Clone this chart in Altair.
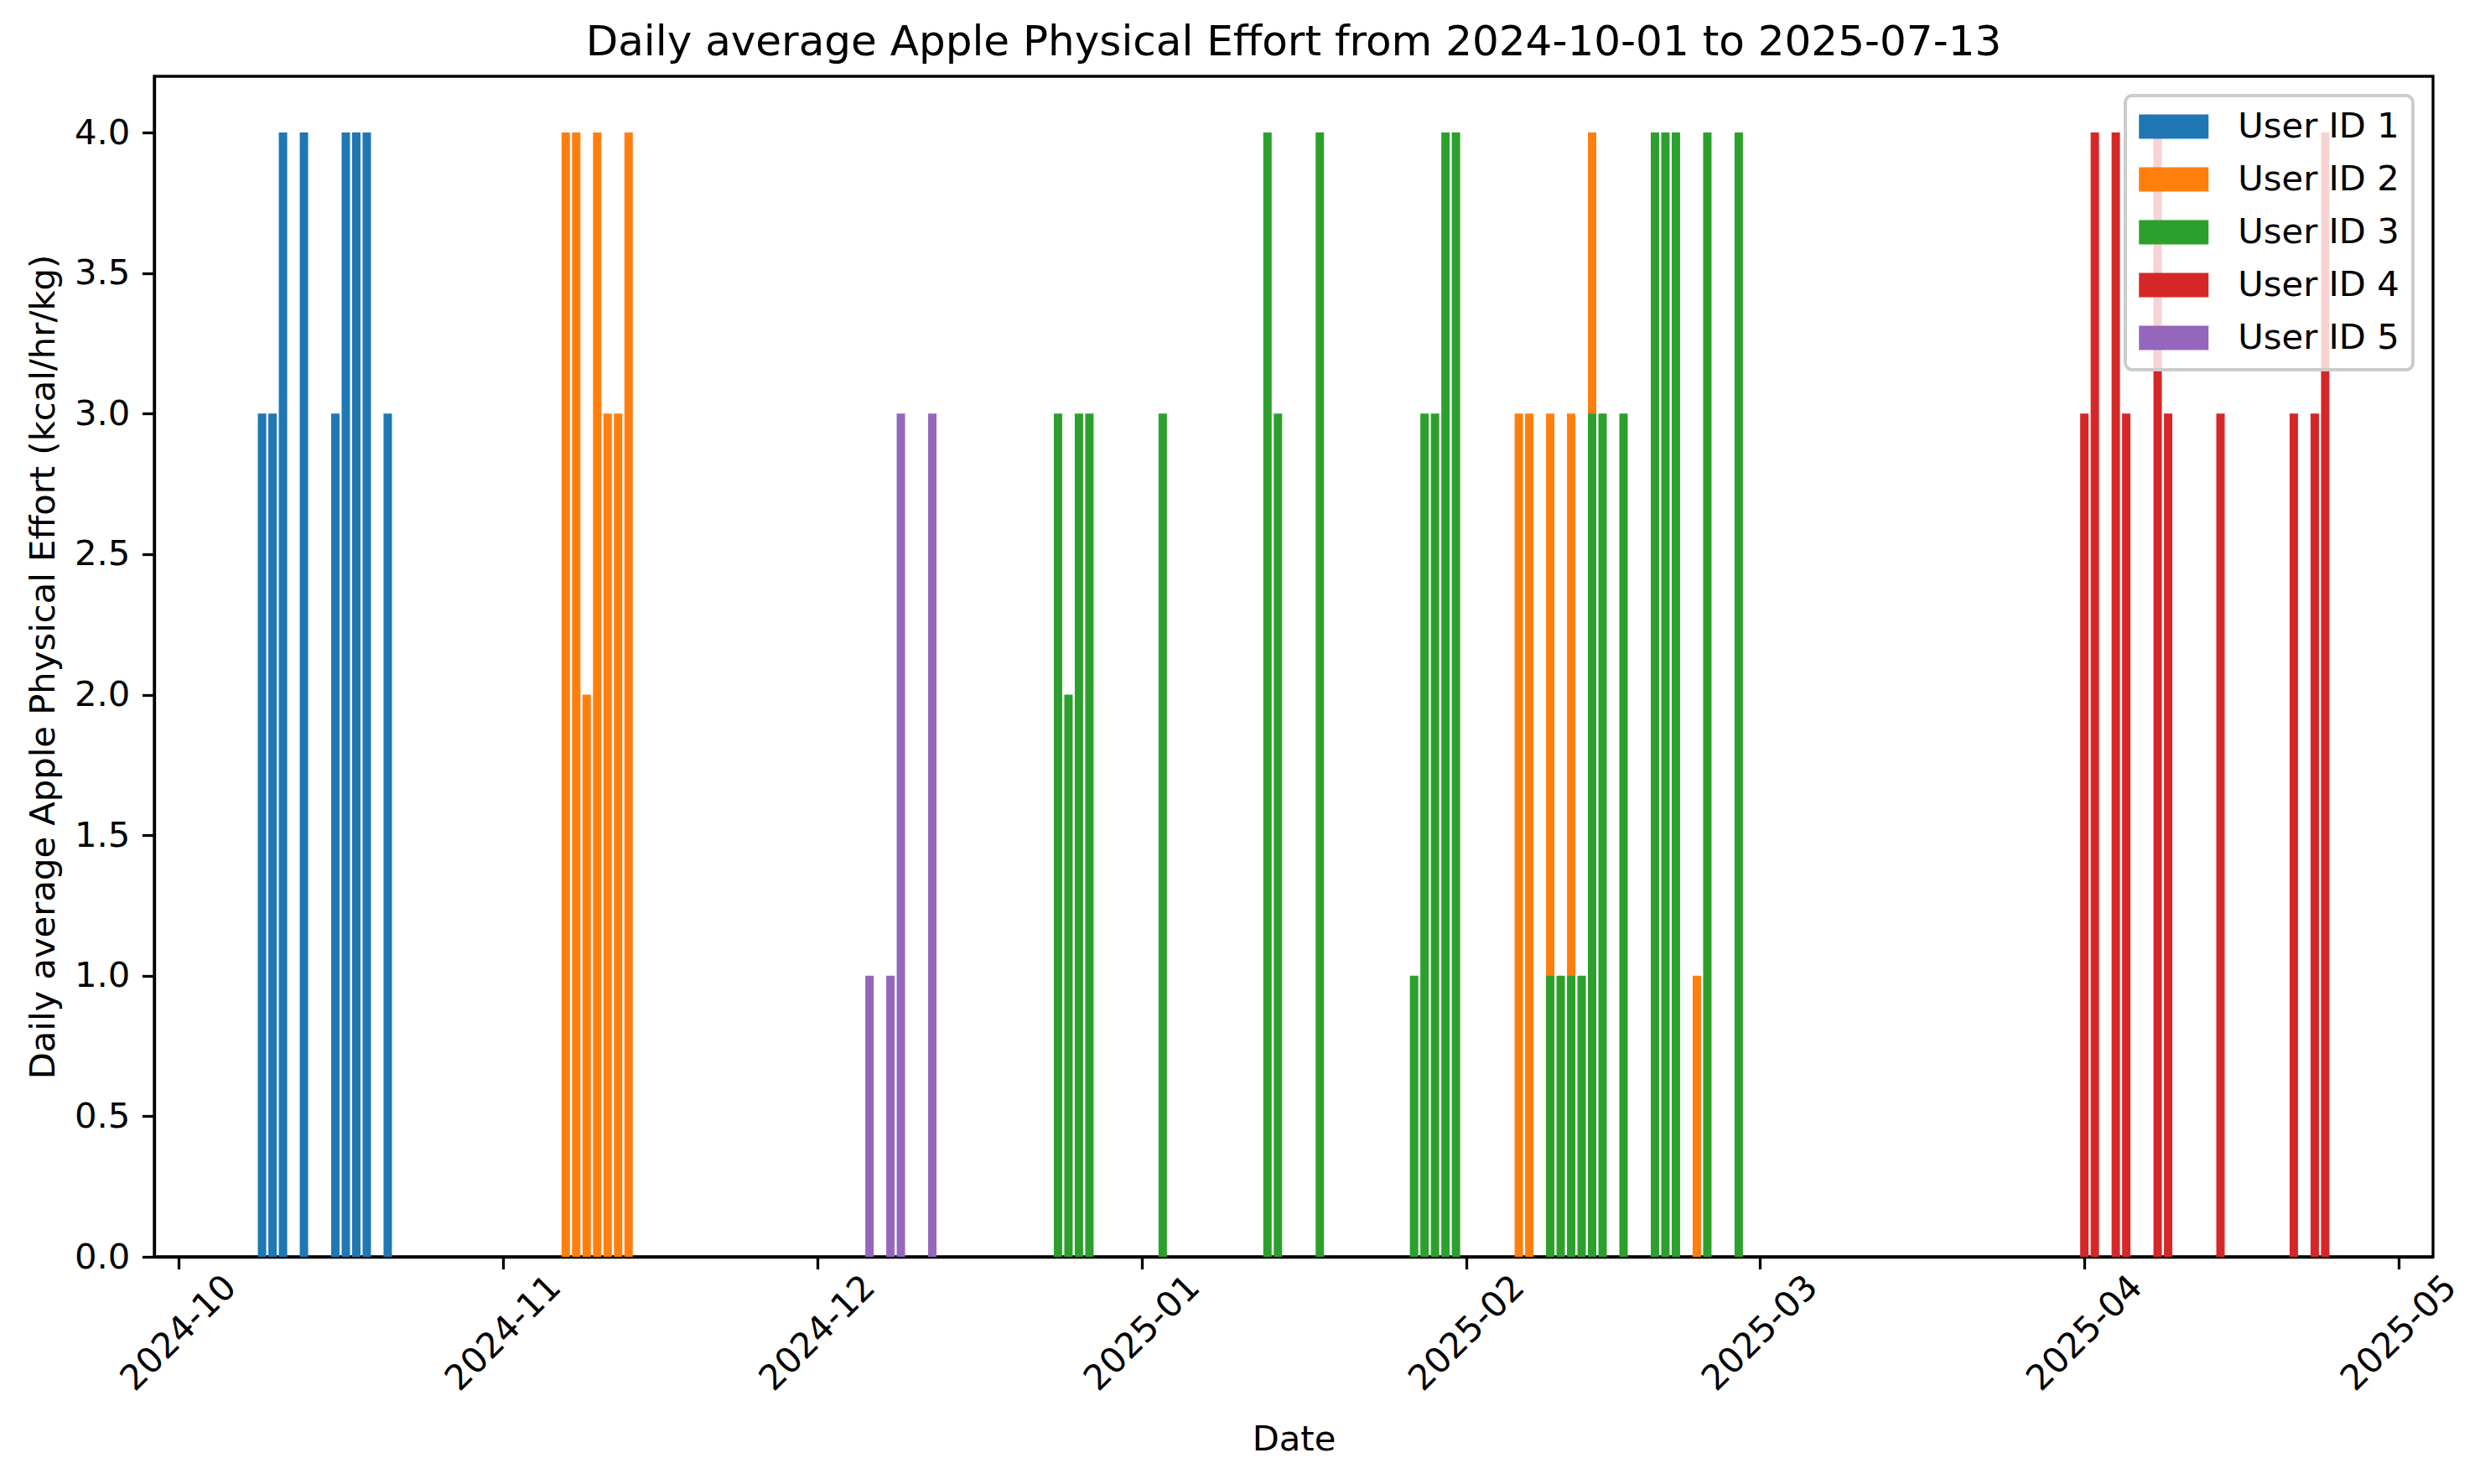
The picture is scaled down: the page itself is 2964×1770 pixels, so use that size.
import altair as alt
import pandas as pd

# ---------------- data ----------------
user_ids = [1, 2, 3, 4, 5]
user_labels = ["User ID 1", "User ID 2", "User ID 3", "User ID 4", "User ID 5"]
user_colors = ["#1f77b4", "#ff7f0e", "#2ca02c", "#d62728", "#9467bd"]

u1_dates = ["2024-10-09", "2024-10-10", "2024-10-11", "2024-10-13", "2024-10-16",
            "2024-10-17", "2024-10-18", "2024-10-19", "2024-10-21"]
u1_values = [3, 3, 4, 4, 3, 4, 4, 4, 3]

u2_dates = ["2024-11-07", "2024-11-08", "2024-11-09", "2024-11-10", "2024-11-11",
            "2024-11-12", "2024-11-13", "2025-02-06", "2025-02-07", "2025-02-09",
            "2025-02-11", "2025-02-13", "2025-02-23"]
u2_values = [4, 4, 2, 4, 3, 3, 4, 3, 3, 3, 3, 4, 1]

u3_dates = ["2024-12-24", "2024-12-25", "2024-12-26", "2024-12-27", "2025-01-03",
            "2025-01-13", "2025-01-14", "2025-01-18", "2025-01-27", "2025-01-28",
            "2025-01-29", "2025-01-30", "2025-01-31", "2025-02-09", "2025-02-10",
            "2025-02-11", "2025-02-12", "2025-02-13", "2025-02-14", "2025-02-16",
            "2025-02-19", "2025-02-20", "2025-02-21", "2025-02-24", "2025-02-27"]
u3_values = [3, 2, 3, 3, 3, 4, 3, 4, 1, 3, 3, 4, 4, 1, 1, 1, 1, 3, 3, 3, 4, 4, 4, 4, 4]

u4_dates = ["2025-04-01", "2025-04-02", "2025-04-04", "2025-04-05", "2025-04-08",
            "2025-04-09", "2025-04-14", "2025-04-21", "2025-04-23", "2025-04-24"]
u4_values = [3, 4, 4, 3, 4, 3, 3, 3, 3, 4]

u5_dates = ["2024-12-06", "2024-12-08", "2024-12-09", "2024-12-12"]
u5_values = [1, 1, 3, 3]

y_tick_values = [0.0, 0.5, 1.0, 1.5, 2.0, 2.5, 3.0, 3.5, 4.0]

title_text = "Daily average Apple Physical Effort from 2024-10-01 to 2025-07-13"
x_title = "Date"
y_title = "Daily average Apple Physical Effort (kcal/hr/kg)"

all_dates = [u1_dates, u2_dates, u3_dates, u4_dates, u5_dates]
all_values = [u1_values, u2_values, u3_values, u4_values, u5_values]

rows = []
for uid, label, dates, values in zip(user_ids, user_labels, all_dates, all_values):
    for d, v in zip(dates, values):
        rows.append({"uid": uid, "user": label, "date": d, "value": v})
df = pd.DataFrame(rows)

# ---------------- style ----------------
FONT = "DejaVu Sans"
FS = 41.7          # 10 pt at 300 dpi
TITLE_FS = 50      # 12 pt at 300 dpi
LW = 3.3           # 0.8 pt
TICK = 14.6        # 3.5 pt
HALF_BAR_MS = 0.4 * 86400000  # bar width 0.8 day

W, H = 2718, 1408

month_ticks = [
    alt.DateTime(year=2024, month=10, date=1, utc=True),
    alt.DateTime(year=2024, month=11, date=1, utc=True),
    alt.DateTime(year=2024, month=12, date=1, utc=True),
    alt.DateTime(year=2025, month=1, date=1, utc=True),
    alt.DateTime(year=2025, month=2, date=1, utc=True),
    alt.DateTime(year=2025, month=3, date=1, utc=True),
    alt.DateTime(year=2025, month=4, date=1, utc=True),
    alt.DateTime(year=2025, month=5, date=1, utc=True),
]
x_domain = [
    alt.DateTime(year=2024, month=9, date=28, hours=17, utc=True),
    alt.DateTime(year=2025, month=5, date=4, hours=7, utc=True),
]

chart = (
    alt.Chart(df)
    .transform_calculate(
        x0=f"time(datum.date) - {HALF_BAR_MS}",
        x1=f"time(datum.date) + {HALF_BAR_MS}",
    )
    .mark_bar(strokeWidth=0)
    .encode(
        x=alt.X(
            "x0:T",
            scale=alt.Scale(type="utc", domain=x_domain),
            axis=alt.Axis(
                values=month_ticks,
                format="%Y-%m",
                labelAngle=-45,
                labelAlign="center",
                labelBaseline="middle",
                labelPadding=76,
                labelFont=FONT,
                labelFontSize=FS,
                labelColor="black",
                labelLimit=500,
                labelFlush=False,
                labelOverlap=False,
                tickSize=TICK,
                tickWidth=LW,
                tickColor="black",
                domainColor="black",
                domainWidth=LW,
                grid=False,
                title=x_title,
                titleFont=FONT,
                titleFontSize=FS,
                titleFontWeight="normal",
                titleColor="black",
                titleX=W / 2,
                titleY=217,
                titleAlign="center",
                titleBaseline="middle",
            ),
        ),
        x2="x1:T",
        y=alt.Y(
            "value:Q",
            stack=None,
            scale=alt.Scale(domain=[0, 4.2], nice=False, zero=True),
            axis=alt.Axis(
                values=y_tick_values,
                format=".1f",
                labelPadding=TICK,
                labelFont=FONT,
                labelFontSize=FS,
                labelColor="black",
                tickSize=TICK,
                tickWidth=LW,
                tickColor="black",
                domainColor="black",
                domainWidth=LW,
                grid=False,
                title=y_title,
                titleFont=FONT,
                titleFontSize=FS,
                titleFontWeight="normal",
                titleColor="black",
                titleX=-133,
                titleY=H / 2,
                titleAngle=-90,
                titleAlign="center",
                titleBaseline="middle",
                titleLimit=3000,
            ),
        ),
        y2=alt.datum(0),
        color=alt.Color(
            "user:N",
            scale=alt.Scale(domain=user_labels, range=user_colors),
            legend=alt.Legend(
                title=None,
                orient="none",
                legendX=2351,
                legendY=23,
                direction="vertical",
                symbolType="M-2,-0.7H2V0.7H-2Z",
                symbolSize=1722,
                symbolStrokeWidth=0,
                symbolOpacity=1,
                symbolOffset=20.75,
                labelOffset=55.5,
                labelFont=FONT,
                labelFontSize=FS,
                labelColor="black",
                labelLimit=500,
                rowPadding=20,
                padding=16,
                fillColor="rgba(255,255,255,0.8)",
                strokeColor="#cccccc",
                cornerRadius=8,
            ),
        ),
        order=alt.Order("uid:Q"),
    )
    .properties(
        width=W,
        height=H,
        padding={"left": 176, "top": 83, "right": 40, "bottom": 255},
        autosize=alt.AutoSizeParams(type="none"),
        title=alt.TitleParams(
            text=title_text,
            font=FONT,
            fontSize=TITLE_FS,
            fontWeight="normal",
            color="black",
            anchor="middle",
            frame="group",
            baseline="alphabetic",
            offset=25,
            dy=50,
        ),
    )
    .configure(background="white")
    .configure_view(stroke="black", strokeWidth=LW)
    .configure_legend(strokeWidth=4)
)

chart.save("out.html", embed_options={"renderer": "svg", "actions": False})
